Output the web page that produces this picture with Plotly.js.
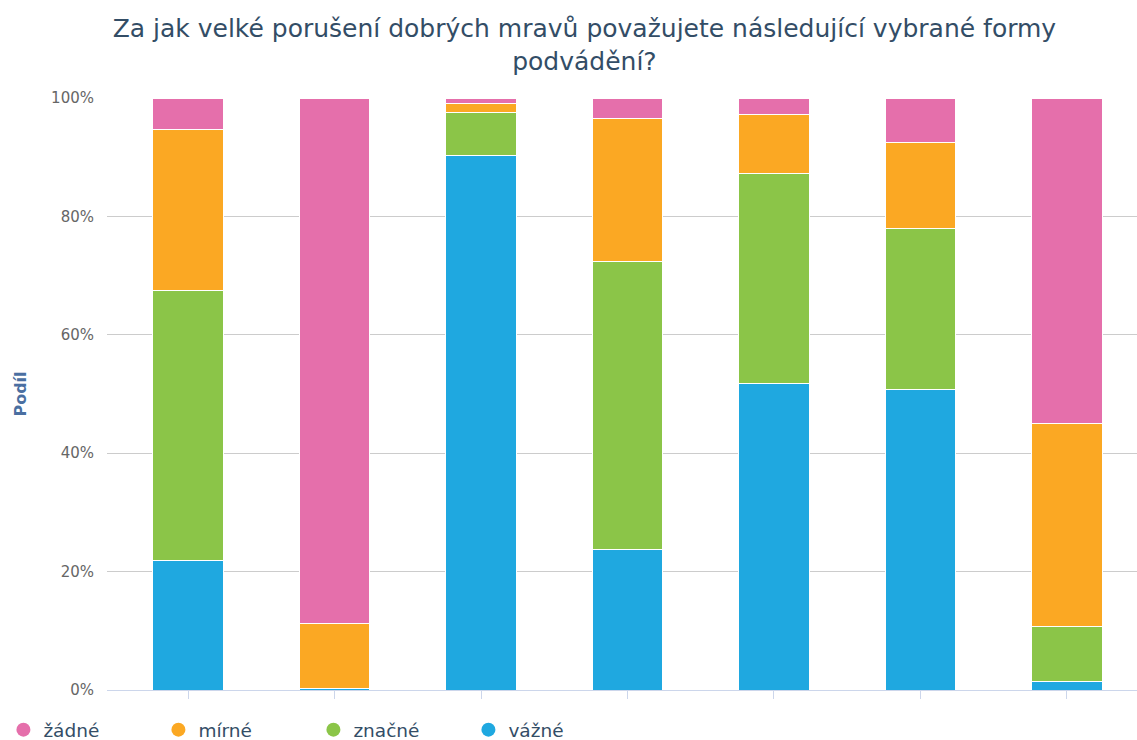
<!DOCTYPE html>
<html><head><meta charset="utf-8">
<script src="https://cdn.plot.ly/plotly-3.0.1.min.js"></script>
<style>html,body{margin:0;padding:0;background:#fff}#chart{width:1137px;height:740px}</style>
</head><body><div id="chart"></div>
<script>
const categories = ["1","2","3","4","5","6","7"];
const seriesNames = ["žádné","mírné","značné","vážné"];
const zadne  = [5.4, 88.7, 1.0, 3.4, 2.8, 7.6, 54.9];
const mirne  = [27.2, 11.1, 1.5, 24.3, 10.0, 14.5, 34.4];
const znacne = [45.6, 0.0, 7.2, 48.5, 35.5, 27.1, 9.3];
const vazne  = [21.8, 0.2, 90.3, 23.8, 51.7, 50.8, 1.4];
const yTicks = [0,20,40,60,80,100];
const yTickLabels = ["0%","20%","40%","60%","80%","100%"];
const colors = {"žádné":"#E56FAB","mírné":"#FBA823","značné":"#8BC548","vážné":"#1FA8E0"};
const values = {"žádné":zadne,"mírné":mirne,"značné":znacne,"vážné":vazne};

const traces = [];
["vážné","značné","mírné","žádné"].forEach(n => {
  traces.push({type:"bar", x:categories, y:values[n], name:n, showlegend:false,
    marker:{color:colors[n], line:{color:"#ffffff", width:1}}, hoverinfo:"y+name"});
});
seriesNames.forEach(n => {
  traces.push({type:"scatter", mode:"markers", x:[null], y:[null], name:n,
    marker:{symbol:"circle", size:14, color:colors[n]}, showlegend:true});
});

const layout = {
  width:1137, height:740,
  margin:{l:107, r:0, t:98, b:50},
  paper_bgcolor:"#fff", plot_bgcolor:"#fff",
  font:{family:"DejaVu Sans, sans-serif", color:"#334d66"},
  title:{text:"Za jak velké porušení dobrých mravů považujete následující vybrané formy<br>podvádění?",
    font:{size:25, color:"#334d66"}, x:0.514, xanchor:"center", y:0.95, yanchor:"top"},
  barmode:"stack", bargap:0.52,
  xaxis:{type:"category", range:[-0.553,6.478], showticklabels:false, ticks:"outside",
    ticklen:8, tickcolor:"#ccd6eb", tickwidth:1, showline:true, linecolor:"#ccd6eb", linewidth:1,
    showgrid:false, zeroline:false, fixedrange:true},
  yaxis:{range:[0,100], tickvals:yTicks, ticktext:yTickLabels, showgrid:true, gridcolor:"#cccccc",
    gridwidth:1, zeroline:false, showline:false, ticks:"", ticklabelstandoff:12,
    tickfont:{size:15, color:"#666666"},
    title:{text:"<b>Podíl</b>", font:{size:16, color:"#4a6fa1"}, standoff:20}},
  legend:{orientation:"h", x:0.003, xref:"container", y:0.039, yref:"container", xanchor:"left", yanchor:"top",
    font:{size:18.5, color:"#334d66"}, entrywidth:110, entrywidthmode:"pixels", itemwidth:30,
    traceorder:"normal", bgcolor:"rgba(0,0,0,0)"},
  showlegend:true
};
Plotly.newPlot("chart", traces, layout, {displayModeBar:false, staticPlot:true});
</script></body></html>
